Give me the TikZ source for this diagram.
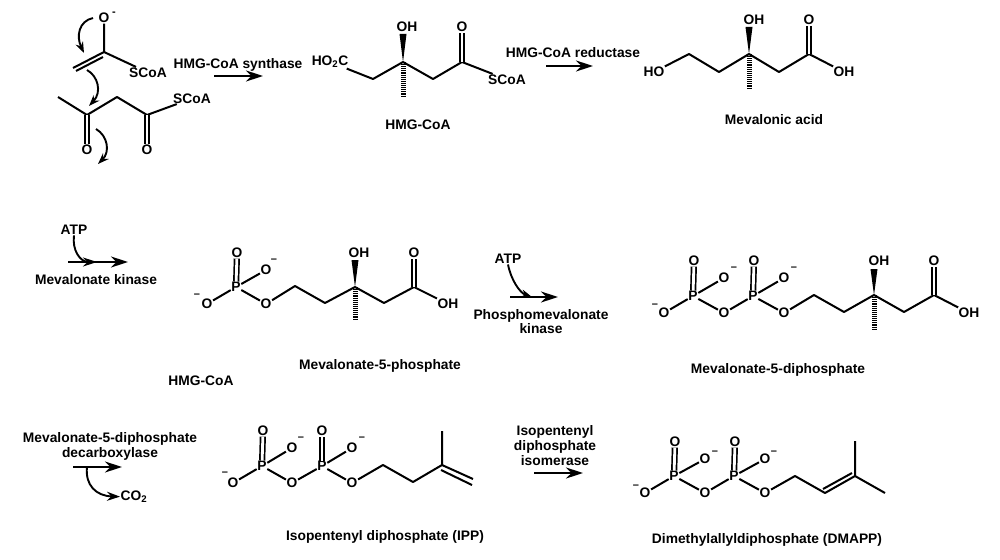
\documentclass[tikz,border=0pt]{standalone}
\usepackage{fontspec}
\setmainfont{Liberation Sans}
\usetikzlibrary{arrows.meta}
\tikzstyle{label} = [inner sep=0pt, yshift=-1.5pt, font=\fontsize{13.8}{14.6}\selectfont\bfseries, align=center]
\tikzstyle{atom} = [inner sep=0.5pt, font=\fontsize{13.8}{14.6}\selectfont\bfseries]
\tikzstyle{charge} = [inner sep=0pt, font=\fontsize{11}{11}\selectfont\bfseries]
\tikzstyle{bond} = [line width=2pt, line join=round]
\tikzstyle{dblbond} = [line width=1.7pt, double, double distance=2.8pt]
\tikzstyle{hashed} = [line width=5pt, dash pattern=on 1.1pt off 1pt]
\tikzstyle{rxn} = [line width=1.9pt, -{Stealth[length=17pt, width=11pt]}]
\tikzstyle{curly} = [line width=1.9pt, -{Stealth[length=11pt, width=8pt]}]
\newcommand{\wedgebond}[2]{\fill (#1) -- ([xshift=-3.5pt]#2) -- ([xshift=3.5pt]#2) -- cycle;}

\begin{document}
\begin{tikzpicture}[x=1pt, y=-1pt]
      \useasboundingbox (0,0) rectangle (1000,559);

      \node (enO) [atom] at (104,18) {O};
      \node (enMinus) [charge] at (114,14) {-};
      \coordinate (enC) at (104,52);
      \coordinate (enEnd) at (73,68);
      \node (enS) [atom] at (148,72.5) {SCoA};
      \draw [bond] (enO) -- (enC) -- (enS);
      \draw [bond] (enC) -- (enEnd);
      \draw [bond] ([shift={(-1,5)}]enC) -- ([shift={(3,3)}]enEnd);
      \coordinate (acMe) at (58,97);
      \coordinate (acA) at (87,115);
      \coordinate (acB) at (117,97);
      \coordinate (acC) at (147,115);
      \node (acS) [atom] at (192,98.5) {SCoA};
      \node (acOa) [atom] at (87,150) {O};
      \node (acOb) [atom] at (147,150) {O};
      \draw [bond] (acMe) -- (acA) -- (acB) -- (acC) -- (acS);
      \draw [dblbond] (acA) -- (acOa);
      \draw [dblbond] (acC) -- (acOb);
      \coordinate (pushAa) at (93,18);
      \coordinate (pushAb) at (84,53);
      \coordinate (pushBa) at (87,70);
      \coordinate (pushBb) at (89,106);
      \coordinate (pushCa) at (96,129);
      \coordinate (pushCb) at (98,164);
      \draw [curly] (pushAa) .. controls (79,21) and (76,36) .. (pushAb);
      \draw [curly] (pushBa) .. controls (98,76) and (102,92) .. (pushBb);
      \draw [curly] (pushCa) .. controls (108,136) and (110,152) .. (pushCb);

      \node (synthase) [label] at (238,63) {HMG-CoA synthase};
      \coordinate (synA) at (214,76);
      \coordinate (synB) at (263,76);
      \draw [rxn] (synA) -- (synB);

      \node (hmgAcid) [atom, anchor=east] at (349,62) {HO\textsubscript{2}C};
      \coordinate (hmgA) at (373,79);
      \coordinate (hmgC) at (403,62);
      \coordinate (hmgB) at (433,79);
      \coordinate (hmgD) at (462,62);
      \node (hmgO) [atom] at (462,27) {O};
      \node (hmgS) [atom] at (507,79.5) {SCoA};
      \node (hmgOH) [atom] at (407,27) {OH};
      \coordinate (hmgTip) at (403,34);
      \coordinate (hmgMe) at (403,96);
      \draw [bond] (hmgAcid) -- (hmgA) -- (hmgC) -- (hmgB) -- (hmgD) -- (hmgS);
      \draw [dblbond] (hmgD) -- (hmgO);
      \wedgebond{hmgC}{hmgTip}
      \draw [hashed] (hmgC) -- (hmgMe);
      \node (hmgName) [label] at (418,123) {HMG-CoA};

      \node (reductase) [label] at (573,51) {HMG-CoA reductase};
      \coordinate (redA) at (546,66);
      \coordinate (redB) at (593,66);
      \draw [rxn] (redA) -- (redB);

      \node (mvaHO) [atom] at (654,72) {HO};
      \coordinate (mvaA) at (689,54);
      \coordinate (mvaB) at (719,72);
      \coordinate (mvaC) at (749,54);
      \coordinate (mvaD) at (779,72);
      \coordinate (mvaE) at (809,54);
      \node (mvaO) [atom] at (809,20) {O};
      \node (mvaAcid) [atom] at (844,72) {OH};
      \node (mvaOH) [atom] at (754,20) {OH};
      \coordinate (mvaTip) at (749,27);
      \coordinate (mvaMe) at (749,89);
      \draw [bond] (mvaHO) -- (mvaA) -- (mvaB) -- (mvaC) -- (mvaD) -- (mvaE) -- (mvaAcid);
      \draw [dblbond] (mvaE) -- (mvaO);
      \wedgebond{mvaC}{mvaTip}
      \draw [hashed] (mvaC) -- (mvaMe);
      \node (mvaName) [label] at (774,118) {Mevalonic acid};

      \node (atpA) [atom] at (74,230) {ATP};
      \coordinate (kinA) at (68,262);
      \coordinate (kinMid) at (97,262);
      \coordinate (kinB) at (128,262);
      \draw [rxn] (kinA) -- (kinB);
      \draw [curly, -{Stealth[length=14pt, width=9pt]}] (atpA.south) .. controls (72,250) and (80,262) .. (kinMid);
      \node (kinase) [label] at (96,278) {Mevalonate kinase};

      \node (mvpP) [atom] at (236,287) {P};
      \node (mvpOa) [atom] at (237,253) {O};
      \node (mvpOb) [atom] at (266,270) {O};
      \node (mvpMb) [charge] at (274,261) {--};
      \node (mvpOc) [atom] at (207,304) {O};
      \node (mvpMc) [charge] at (197,296) {--};
      \node (mvpOd) [atom] at (266,304) {O};
      \coordinate (mvpA) at (295,286);
      \coordinate (mvpB) at (325,303);
      \coordinate (mvpC) at (355,287);
      \coordinate (mvpD) at (384,303);
      \coordinate (mvpE) at (414,287);
      \node (mvpO) [atom] at (414,253) {O};
      \node (mvpAcid) [atom] at (448,304) {OH};
      \node (mvpOH) [atom] at (359,253) {OH};
      \coordinate (mvpTip) at (355,260);
      \coordinate (mvpMe) at (355,320);
      \draw [dblbond] (mvpP) -- (mvpOa);
      \draw [bond] (mvpP) -- (mvpOb);
      \draw [bond] (mvpP) -- (mvpOc);
      \draw [bond] (mvpP) -- (mvpOd) -- (mvpA) -- (mvpB) -- (mvpC) -- (mvpD) -- (mvpE) -- (mvpAcid);
      \draw [dblbond] (mvpE) -- (mvpO);
      \wedgebond{mvpC}{mvpTip}
      \draw [hashed] (mvpC) -- (mvpMe);
      \node (mvpName) [label] at (380,364) {Mevalonate-5-phosphate};
      \node (strayName) [label] at (201,379) {HMG-CoA};

      \node (atpB) [atom] at (508,259) {ATP};
      \coordinate (pmkA) at (510,297);
      \coordinate (pmkMid) at (532,297);
      \coordinate (pmkB) at (558,297);
      \draw [rxn] (pmkA) -- (pmkB);
      \draw [curly] (atpB.south) .. controls (511,280) and (520,293) .. (pmkMid);
      \node (pmkinase) [label] at (541,320) {Phosphomevalonate\\kinase};

      \node (mppPa) [atom] at (693,296) {P};
      \node (mppOa) [atom] at (694,261) {O};
      \node (mppOb) [atom] at (724,278) {O};
      \node (mppMb) [charge] at (734,269) {--};
      \node (mppOc) [atom] at (664,313) {O};
      \node (mppMc) [charge] at (655,306) {--};
      \node (mppOd) [atom] at (724,313) {O};
      \node (mppPb) [atom] at (753,296) {P};
      \node (mppOe) [atom] at (754,261) {O};
      \node (mppOf) [atom] at (784,278) {O};
      \node (mppMf) [charge] at (794,269) {--};
      \node (mppOg) [atom] at (784,313) {O};
      \coordinate (mppA) at (814,295);
      \coordinate (mppB) at (844,312);
      \coordinate (mppC) at (874,295);
      \coordinate (mppD) at (904,312);
      \coordinate (mppE) at (934,295);
      \node (mppO) [atom] at (934,261) {O};
      \node (mppAcid) [atom] at (969,313) {OH};
      \node (mppOH) [atom] at (879,261) {OH};
      \coordinate (mppTip) at (874,269);
      \coordinate (mppMe) at (874,329);
      \draw [dblbond] (mppPa) -- (mppOa);
      \draw [bond] (mppPa) -- (mppOb);
      \draw [bond] (mppPa) -- (mppOc);
      \draw [bond] (mppPa) -- (mppOd) -- (mppPb);
      \draw [dblbond] (mppPb) -- (mppOe);
      \draw [bond] (mppPb) -- (mppOf);
      \draw [bond] (mppPb) -- (mppOg) -- (mppA) -- (mppB) -- (mppC) -- (mppD) -- (mppE) -- (mppAcid);
      \draw [dblbond] (mppE) -- (mppO);
      \wedgebond{mppC}{mppTip}
      \draw [hashed] (mppC) -- (mppMe);
      \node (mppName) [label] at (778,368) {Mevalonate-5-diphosphate};

      \node (decarb) [label] at (110,445) {Mevalonate-5-diphosphate\\decarboxylase};
      \coordinate (decA) at (73,467);
      \coordinate (decMid) at (87,467);
      \coordinate (decB) at (122,467);
      \node (carbon) [atom] at (134,497) {CO\textsubscript{2}};
      \draw [rxn] (decA) -- (decB);
      \draw [curly, -{Stealth[length=13pt, width=9pt]}] (decMid) .. controls (85,485) and (96,496) .. (carbon);

      \node (ippPa) [atom] at (262,466) {P};
      \node (ippOa) [atom] at (263,431) {O};
      \node (ippOb) [atom] at (292,448) {O};
      \node (ippMb) [charge] at (301,439) {--};
      \node (ippOc) [atom] at (233,483) {O};
      \node (ippMc) [charge] at (225,474) {--};
      \node (ippOd) [atom] at (292,483) {O};
      \node (ippPb) [atom] at (322,466) {P};
      \node (ippOe) [atom] at (322,431) {O};
      \node (ippOf) [atom] at (352,448) {O};
      \node (ippMf) [charge] at (362,439) {--};
      \node (ippOg) [atom] at (352,483) {O};
      \coordinate (ippA) at (383,465);
      \coordinate (ippB) at (413,482);
      \coordinate (ippC) at (442,465);
      \coordinate (ippMe) at (442,431);
      \coordinate (ippEnd) at (473,479);
      \draw [dblbond] (ippPa) -- (ippOa);
      \draw [bond] (ippPa) -- (ippOb);
      \draw [bond] (ippPa) -- (ippOc);
      \draw [bond] (ippPa) -- (ippOd) -- (ippPb);
      \draw [dblbond] (ippPb) -- (ippOe);
      \draw [bond] (ippPb) -- (ippOf);
      \draw [bond] (ippPb) -- (ippOg) -- (ippA) -- (ippB) -- (ippC) -- (ippMe);
      \draw [bond] (ippC) -- (ippEnd);
      \draw [bond] ([shift={(-1,5)}]ippC) -- ([shift={(-1,6)}]ippEnd);
      \node (ippName) [label] at (385,535) {Isopentenyl diphosphate (IPP)};

      \node (isomerase) [label] at (555,444) {Isopentenyl\\diphosphate\\isomerase};
      \coordinate (isoA) at (534,473);
      \coordinate (isoB) at (583,473);
      \draw [rxn] (isoA) -- (isoB);

      \node (dmaPa) [atom] at (674,476) {P};
      \node (dmaOa) [atom] at (675,442) {O};
      \node (dmaOb) [atom] at (705,459) {O};
      \node (dmaMb) [charge] at (715,453) {--};
      \node (dmaOc) [atom] at (645,493) {O};
      \node (dmaMc) [charge] at (636,487) {--};
      \node (dmaOd) [atom] at (705,493) {O};
      \node (dmaPb) [atom] at (734,476) {P};
      \node (dmaOe) [atom] at (735,442) {O};
      \node (dmaOf) [atom] at (765,459) {O};
      \node (dmaMf) [charge] at (774,453) {--};
      \node (dmaOg) [atom] at (765,493) {O};
      \coordinate (dmaA) at (795,476);
      \coordinate (dmaB) at (825,493);
      \coordinate (dmaC) at (855,476);
      \coordinate (dmaMe) at (855,441);
      \coordinate (dmaEnd) at (885,493);
      \draw [dblbond] (dmaPa) -- (dmaOa);
      \draw [bond] (dmaPa) -- (dmaOb);
      \draw [bond] (dmaPa) -- (dmaOc);
      \draw [bond] (dmaPa) -- (dmaOd) -- (dmaPb);
      \draw [dblbond] (dmaPb) -- (dmaOe);
      \draw [bond] (dmaPb) -- (dmaOf);
      \draw [bond] (dmaPb) -- (dmaOg) -- (dmaA) -- (dmaB) -- (dmaC) -- (dmaMe);
      \draw [bond] (dmaC) -- (dmaEnd);
      \draw [bond] ([shift={(-2,-4)}]dmaB) -- ([shift={(-3,-3)}]dmaC);
      \node (dmaName) [label] at (767,538) {Dimethylallyldiphosphate (DMAPP)};
    \end{tikzpicture}
\end{document}
